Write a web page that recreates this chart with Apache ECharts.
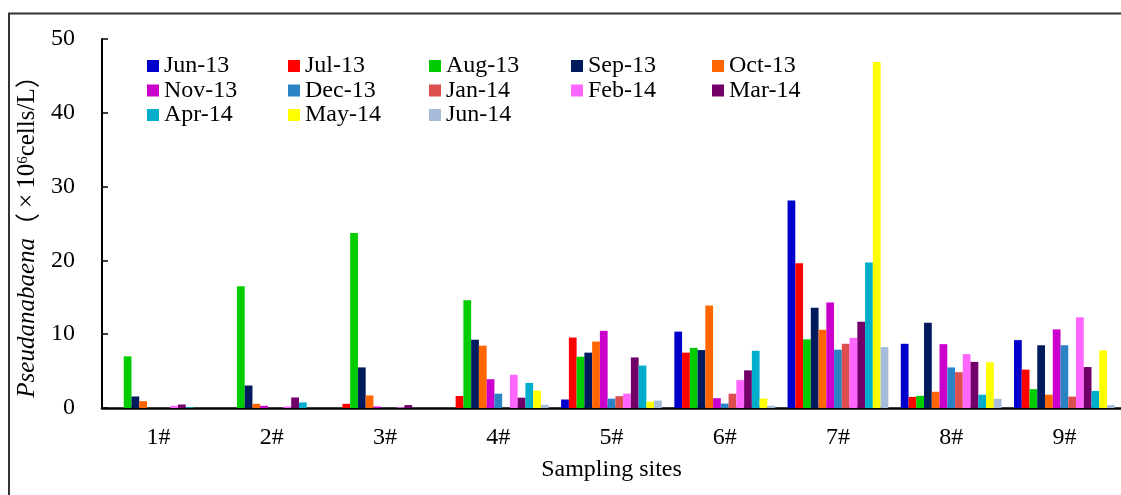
<!DOCTYPE html>
<html>
<head>
<meta charset="utf-8">
<script src="https://cdn.jsdelivr.net/npm/echarts@6/dist/echarts.min.js"></script>
<style>
html,body{margin:0;padding:0;background:#fff;}
#chart{width:1121px;height:495px;}
</style>
</head>
<body>
<div id="chart"></div>
<script>
const sites = ['1#','2#','3#','4#','5#','6#','7#','8#','9#'];
const months = ['Jun-13','Jul-13','Aug-13','Sep-13','Oct-13','Nov-13','Dec-13','Jan-14','Feb-14','Mar-14','Apr-14','May-14','Jun-14'];
const jun13 = [0, 0, 0, 0, 1.15, 10.35, 28.1, 8.7, 9.2];
const jul13 = [0, 0, 0.57, 1.63, 9.55, 7.5, 19.6, 1.5, 5.2];
const aug13 = [7.0, 16.5, 23.7, 14.6, 6.95, 8.15, 9.3, 1.65, 2.55];
const sep13 = [1.56, 3.05, 5.5, 9.25, 7.5, 7.85, 13.6, 11.55, 8.5];
const oct13 = [0.93, 0.57, 1.7, 8.45, 9.0, 13.9, 10.6, 2.2, 1.8];
const nov13 = [0, 0.3, 0.2, 3.9, 10.45, 1.33, 14.3, 8.65, 10.65];
const dec13 = [0, 0, 0, 1.94, 1.27, 0.6, 7.9, 5.5, 8.5];
const jan14 = [0, 0, 0, 0, 1.6, 1.93, 8.7, 4.85, 1.55];
const feb14 = [0.3, 0.2, 0.1, 4.5, 1.95, 3.78, 9.5, 7.3, 12.3];
const mar14 = [0.47, 1.43, 0.4, 1.4, 6.85, 5.1, 11.7, 6.25, 5.55];
const apr14 = [0.1, 0.75, 0, 3.4, 5.75, 7.75, 19.7, 1.8, 2.3];
const may14 = [0, 0, 0, 2.35, 0.85, 1.28, 46.9, 6.2, 7.8];
const jun14 = [0, 0, 0, 0.45, 1.0, 0.3, 8.25, 1.25, 0.4];
const yTicks = [0, 10, 20, 30, 40, 50];

const seriesValues = [jun13, jul13, aug13, sep13, oct13, nov13, dec13, jan14, feb14, mar14, apr14, may14, jun14];
const colors = ['#0000CC','#FF0000','#00CC00','#001A5E','#FF6600','#CC00CC','#2B83C4','#DD4F4F','#FF66FF','#730068','#00AECB','#FFFF00','#A7BBDB'];
const FONT = "'Liberation Serif','Times New Roman',serif";
const CJK = "'Noto Sans CJK SC',sans-serif";

const legendCols = [
  {left: 147, names: ['Jun-13','Nov-13','Apr-14']},
  {left: 288, names: ['Jul-13','Dec-13','May-14']},
  {left: 429, names: ['Aug-13','Jan-14','Jun-14']},
  {left: 571, names: ['Sep-13','Feb-14']},
  {left: 712, names: ['Oct-13','Mar-14']}
];

const chart = echarts.init(document.getElementById('chart'), null, {renderer:'canvas'});
chart.setOption({
  animation: false,
  backgroundColor: '#fff',
  color: colors,
  graphic: [{
    type: 'rect', z: -10,
    shape: {x: 9, y: 13.5, width: 1300, height: 700},
    style: {fill: 'none', stroke: '#333', lineWidth: 2}
  }],
  legend: legendCols.map(c => ({
    orient: 'vertical',
    left: c.left, top: 54,
    padding: 0,
    itemWidth: 12, itemHeight: 12, itemGap: 0.5,
    icon: 'rect',
    data: c.names,
    textStyle: {fontFamily: FONT, fontSize: 24, color: '#000', lineHeight: 22}
  })),
  grid: {left: 102, top: 39, width: 1030.5, bottom: 87, containLabel: false},
  xAxis: {
    type: 'category',
    data: sites,
    name: 'Sampling sites',
    nameLocation: 'middle',
    nameGap: 50,
    nameTextStyle: {fontFamily: FONT, fontSize: 24, color: '#000'},
    axisLine: {lineStyle: {color: '#000', width: 2.5}},
    axisTick: {inside: true, length: 5, lineStyle: {color: '#444', width: 1.5}},
    axisLabel: {fontFamily: FONT, fontSize: 24, color: '#000', margin: 18}
  },
  yAxis: {
    type: 'value',
    min: yTicks[0], max: yTicks[yTicks.length-1], interval: 10,
    name: '{i|Pseudanabaena}{c|（}{x|×}{n|10}{s|6}{n|cells/L}{c|）}',
    nameLocation: 'middle',
    nameGap: 54,
    nameTextStyle: {
      color: '#000',
      padding: [0, 14, 0, 0],
      rich: {
        i: {fontFamily: FONT, fontStyle: 'italic', fontSize: 25, color: '#000'},
        n: {fontFamily: FONT, fontSize: 25, color: '#000'},
        c: {fontFamily: CJK, fontSize: 25, color: '#000'},
        x: {fontFamily: FONT, fontSize: 25, color: '#000', padding: [0, 5, 0, 5]},
        s: {fontFamily: FONT, fontSize: 15, color: '#000', verticalAlign: 'top'}
      }
    },
    splitLine: {show: false},
    axisLine: {show: true, lineStyle: {color: '#000', width: 2}},
    axisTick: {show: true, inside: true, length: 6, lineStyle: {color: '#000', width: 1.5}},
    axisLabel: {fontFamily: FONT, fontSize: 24, color: '#000', margin: 27}
  },
  series: months.map((m, i) => ({
    name: m,
    type: 'bar',
    data: seriesValues[i],
    barGap: '0%',
    barCategoryGap: '11%',
    itemStyle: {color: colors[i]}
  }))
});
</script>
</body>
</html>
